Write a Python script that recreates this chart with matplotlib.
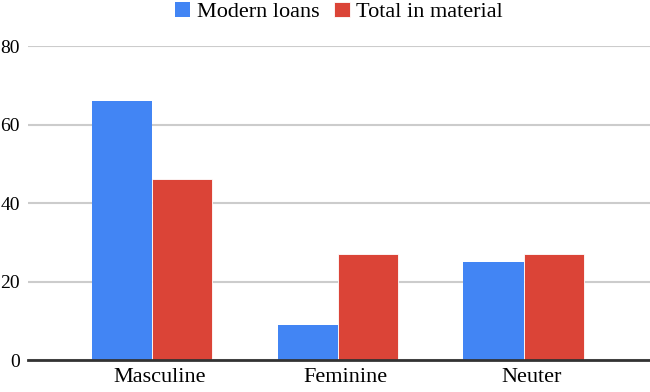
import numpy as np
import matplotlib
matplotlib.use('Agg')
import matplotlib.pyplot as plt
import matplotlib.transforms as mtransforms

# ── Data ─────────────────────────────────────
categories = ['Masculine', 'Feminine', 'Neuter']
modern_loans = [66, 9, 25]
total_material = [46, 27, 27]
series_names = ['Modern loans', 'Total in material']
colors = ['#4285f4', '#db4437']

plt.rcParams['font.family'] = ['Liberation Serif', 'DejaVu Serif']

fig = plt.figure(figsize=(6.5, 3.92), dpi=100)
ax = fig.add_axes([0.0431, 0.0816, 0.9569, 0.8010])

x = np.arange(len(categories))
w = 0.323
ax.bar(x - w / 2, modern_loans, w, color=colors[0], label=series_names[0],
       zorder=3)
ax.bar(x + w / 2, total_material, w, color=colors[1], label=series_names[1],
       zorder=3, edgecolor='white', linewidth=0.6)

ax.set_xlim(-0.665, 2.68)
ax.set_ylim(0, 80)
ax.set_yticks([0, 20, 40, 60, 80])
ax.set_xticks(x)
ax.set_xticklabels(categories)
ax.tick_params(axis='both', length=0, colors='#000000')
ax.tick_params(axis='x', labelsize=16, pad=6)
ax.tick_params(axis='y', labelsize=14, pad=6)

# labels sit a little right of the bar groups in the original
shift = mtransforms.ScaledTranslation(8 / 100, 0, fig.dpi_scale_trans)
for lab in ax.get_xticklabels():
    lab.set_transform(lab.get_transform() + shift)

ax.grid(axis='y', color='#cccccc', linewidth=1.5, zorder=0)
for s in ['top', 'right', 'left']:
    ax.spines[s].set_visible(False)
ax.spines['bottom'].set_color('#333333')
ax.spines['bottom'].set_linewidth(2)
ax.spines['bottom'].set_zorder(4)

ax.legend(loc='center', bbox_to_anchor=(339 / 650, 0.969),
          bbox_transform=fig.transFigure, ncol=2, frameon=False,
          fontsize=16, handlelength=0.68, handleheight=0.68,
          handletextpad=0.31, columnspacing=0.68, borderpad=0)

fig.savefig('out.png', dpi=100)
